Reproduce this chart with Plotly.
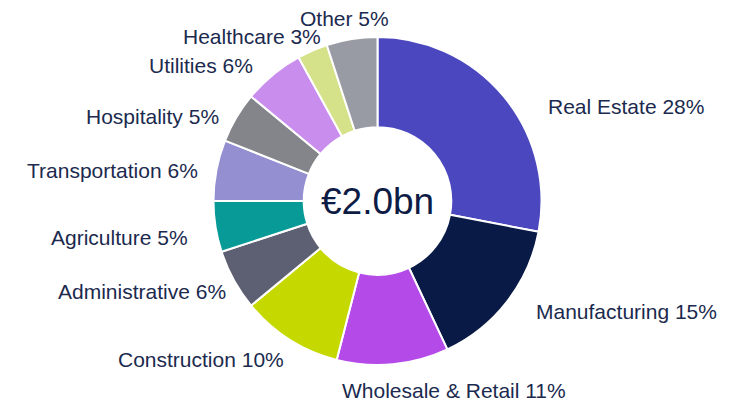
"""
Sector breakdown donut
"""

import math

import plotly.graph_objects as go

sectors = [
    "Real Estate",
    "Manufacturing",
    "Wholesale & Retail",
    "Construction",
    "Administrative",
    "Agriculture",
    "Transportation",
    "Hospitality",
    "Utilities",
    "Healthcare",
    "Other",
]
shares = [28, 15, 11, 10, 6, 5, 6, 5, 6, 3, 5]
colors = [
    "#4B47BF",
    "#081A45",
    "#B44BE9",
    "#C5D800",
    "#5D5F73",
    "#089A96",
    "#938FD1",
    "#83858B",
    "#C98DEE",
    "#D6E28A",
    "#989BA3",
]
total_label = "€2.0bn"

# geometry, in figure pixels
W, H = 744, 403
cx, cy, R = 369.5, 193, 164
label_r = 183
label_turn = -2.5  # degrees
# Excel's "best fit" moves some labels off the radial line
label_nudge = {
    "Real Estate": (33, 28),
    "Manufacturing": (7, 5),
    "Wholesale & Retail": (51, 8),
    "Administrative": (7, -5),
    "Agriculture": (-8, 0),
    "Transportation": (4, -4),
    "Hospitality": (5, 2),
    "Healthcare": (25, 0),
    "Other": (3, -3),
}

font = "Liberation Sans, Arial"
text_color = "#1B2A4E"

fig = go.Figure(
    go.Pie(
        labels=sectors,
        values=shares,
        hole=0.45,
        sort=False,
        direction="clockwise",
        rotation=0,
        marker=dict(colors=colors, line=dict(color="white", width=2)),
        textinfo="none",
        hoverinfo="label+percent",
        domain=dict(
            x=[(cx - R) / W, (cx + R) / W],
            y=[1 - (cy + R) / H, 1 - (cy - R) / H],
        ),
        showlegend=False,
    )
)

# outside labels near the middle angle of each slice
total = sum(shares)
cum = 0
for name, val in zip(sectors, shares):
    mid = (cum + val / 2) / total * 360
    cum += val
    ang = math.radians(mid + label_turn)
    s, c = math.sin(ang), math.cos(ang)
    dx, dy = label_nudge.get(name, (0, 0))
    px = cx + label_r * s + dx
    py = cy - label_r * c + dy
    if abs(s) < 0.2:
        xanchor = "center"
    elif s > 0:
        xanchor = "left"
    else:
        xanchor = "right"
    fig.add_annotation(
        text=f"{name} {val}%",
        x=px / W,
        y=1 - py / H,
        xref="paper",
        yref="paper",
        xanchor=xanchor,
        yanchor="middle",
        showarrow=False,
        font=dict(family=font, size=21, color=text_color),
    )

fig.add_annotation(
    text=total_label,
    x=cx / W,
    y=1 - cy / H,
    xref="paper",
    yref="paper",
    showarrow=False,
    font=dict(family=font, size=37, color="#0D1B45"),
)

fig.update_layout(
    width=W,
    height=H,
    margin=dict(l=0, r=0, t=0, b=0),
    paper_bgcolor="white",
    plot_bgcolor="white",
)

fig.write_html("out.html")
